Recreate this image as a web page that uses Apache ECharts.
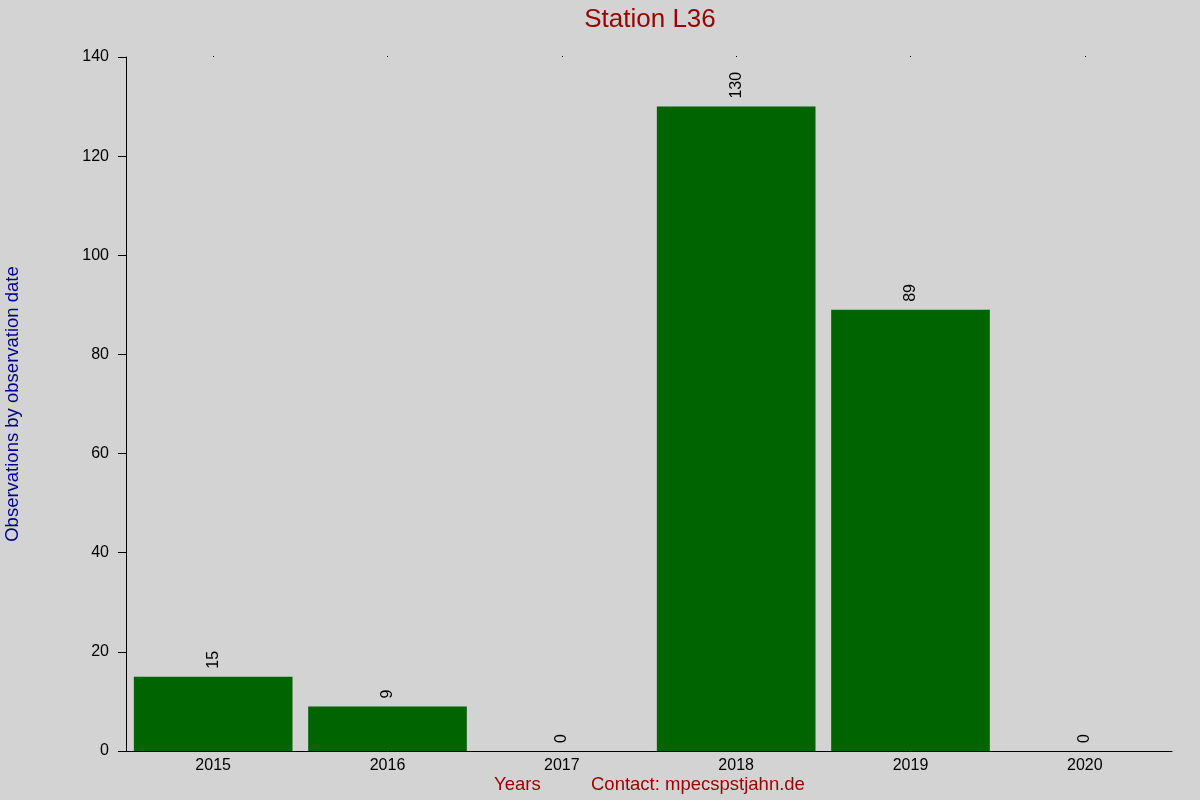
<!DOCTYPE html>
<html>
<head>
<meta charset="utf-8">
<script src="https://cdn.jsdelivr.net/npm/echarts@6/dist/echarts.min.js"></script>
<style>html,body{margin:0;padding:0;background:#d3d3d3;}#c{width:1200px;height:800px;}</style>
</head>
<body>
<div id="c"></div>
<script>
const years = ['2015', '2016', '2017', '2018', '2019', '2020'];
const observations = [15, 9, 0, 130, 89, 0];
const yTicks = { min: 0, max: 140, interval: 20 };

const chart = echarts.init(document.getElementById('c'));
const font = 'Liberation Sans, Arial, sans-serif';
chart.setOption({
  backgroundColor: '#d3d3d3',
  animation: false,
  title: {
    text: 'Station L36',
    left: 645, top: 2, textAlign: 'center',
    textStyle: { color: '#990000', fontSize: 26, fontWeight: 'normal', fontFamily: font }
  },
  grid: { left: 126, right: 28, top: 57, bottom: 49, containLabel: false, outerBoundsMode: 'none' },
  xAxis: [{
    type: 'category', data: years,
    axisLine: { show: true, lineStyle: { color: '#000', width: 1 } },
    axisTick: { show: false },
    axisLabel: { color: '#000', fontSize: 16, fontFamily: font, margin: 7 },
    splitLine: { show: false }
  }, {
    type: 'category', data: years, position: 'top',
    axisLine: { show: false },
    axisTick: { show: true, alignWithLabel: true, length: 1, lineStyle: { color: '#000' } },
    axisLabel: { show: false }
  }],
  yAxis: {
    type: 'value', min: yTicks.min, max: yTicks.max, interval: yTicks.interval,
    name: 'Observations by observation date', nameLocation: 'middle', nameGap: 104,
    nameTextStyle: { color: '#00008b', fontSize: 18.5, fontFamily: font },
    axisLine: { show: true, lineStyle: { color: '#000', width: 1 } },
    axisTick: { show: true, length: 8, lineStyle: { color: '#000' } },
    axisLabel: { color: '#000', fontSize: 16, fontFamily: font, margin: 17 },
    splitLine: { show: false }
  },
  series: [{
    type: 'bar', data: observations, xAxisIndex: 0,
    barCategoryGap: '9%',
    itemStyle: { color: '#006400' },
    label: {
      show: true, position: 'top', rotate: 90, distance: 8,
      align: 'left', verticalAlign: 'middle',
      color: '#000', fontSize: 16, fontFamily: font
    }
  }],
  graphic: [
    { type: 'text', left: 494, top: 775, style: { text: 'Years', fill: '#990000', fontSize: 18.5, fontFamily: font } },
    { type: 'text', left: 591, top: 775, style: { text: 'Contact: mpecspstjahn.de', fill: '#990000', fontSize: 18.5, fontFamily: font } }
  ]
});
</script>
</body>
</html>
